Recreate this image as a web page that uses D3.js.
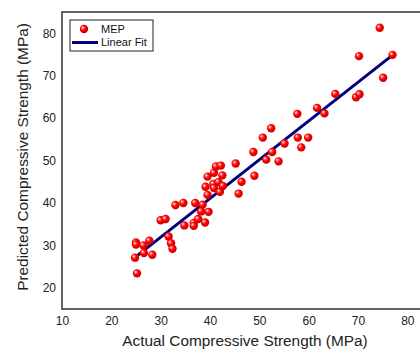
<!DOCTYPE html>
<html>
<head>
<meta charset="utf-8">
<script src="https://cdn.jsdelivr.net/npm/d3@7"></script>
<style>
  body { margin: 0; background: #fff; }
  svg { display: block; font-family: "Liberation Sans", Arial, sans-serif; }
</style>
</head>
<body>
<svg id="chart" width="420" height="358"></svg>
<script>
// actual vs predicted strength (MPa)
const actual = [25.2, 24.8, 25.0, 25.0, 26.5, 27.7, 26.6, 28.3, 30.0, 31.0,
  31.6, 32.1, 32.4, 33.0, 34.6, 34.8, 37.0, 38.5, 38.2, 39.7,
  36.7, 36.7, 37.6, 39.0, 39.1, 40.7, 40.8, 41.7, 39.5, 42.0,
  42.6, 39.5, 40.8, 41.2, 42.2, 42.5, 45.8, 46.4, 45.2, 49.0,
  48.8, 51.4, 52.6, 53.9, 50.7, 52.4, 55.1, 57.8, 59.9, 58.5,
  57.7, 61.7, 63.2, 65.4, 69.6, 70.3, 75.1, 70.2, 77.0, 74.4];
const predicted = [23.4, 27.1, 30.7, 30.2, 30.0, 31.1, 28.2, 27.8, 35.9, 36.2,
  32.1, 30.5, 29.2, 39.5, 40.0, 34.7, 40.0, 39.6, 38.0, 37.9,
  35.3, 34.6, 36.2, 35.4, 43.8, 44.5, 43.5, 44.9, 41.9, 42.6,
  44.0, 46.2, 47.1, 48.6, 48.8, 46.5, 42.2, 45.0, 49.3, 46.4,
  52.0, 50.2, 52.0, 49.8, 55.4, 57.6, 54.0, 55.4, 55.4, 53.1,
  61.0, 62.4, 61.1, 65.7, 64.9, 65.6, 69.5, 74.6, 74.9, 81.3];
const fitSlope = 0.913;
const fitIntercept = 4.54;
const xTicks = [10, 20, 30, 40, 50, 60, 70, 80];
const yTicks = [20, 30, 40, 50, 60, 70, 80];
const legendLabels = ["MEP", "Linear Fit"];

const points = actual.map((a, i) => ({ x: a, y: predicted[i] }));

const svg = d3.select("#chart");
const plotL = 62, plotT = 12, plotB = 309, plotR = 432;

const x = d3.scaleLinear().domain([10, 85]).range([plotL, plotR]);
const y = d3.scaleLinear().domain([15, 85]).range([plotB, plotT]);

const defs = svg.append("defs");
const grad = defs.append("radialGradient")
  .attr("id", "ball")
  .attr("cx", "45%").attr("cy", "45%").attr("r", "60%")
  .attr("fx", "32%").attr("fy", "32%");
grad.append("stop").attr("offset", "0%").attr("stop-color", "#ffffff");
grad.append("stop").attr("offset", "22%").attr("stop-color", "#ff7070");
grad.append("stop").attr("offset", "50%").attr("stop-color", "#ff0000");
grad.append("stop").attr("offset", "100%").attr("stop-color", "#c00000");

// frame: left, top and bottom (right side runs off the canvas)
svg.append("path")
  .attr("d", `M${plotR},${plotT}H${plotL}V${plotB}H${plotR}`)
  .attr("fill", "none")
  .attr("stroke", "#333")
  .attr("stroke-width", 1.5);

const xAxis = svg.append("g")
  .attr("transform", `translate(0,${plotB})`)
  .call(d3.axisBottom(x).tickValues(xTicks).tickSize(0).tickPadding(7));
const yAxis = svg.append("g")
  .attr("transform", `translate(${plotL},0)`)
  .call(d3.axisLeft(y).tickValues(yTicks).tickSize(0).tickPadding(6));
[xAxis, yAxis].forEach(g => {
  g.select(".domain").remove();
  g.selectAll("text")
    .attr("font-size", 12)
    .attr("font-family", "Liberation Sans, Arial, sans-serif")
    .attr("fill", "#222");
});

// fitted line over the range of the data
const xr = d3.extent(actual);
svg.append("line")
  .attr("x1", x(xr[0])).attr("y1", y(fitSlope * xr[0] + fitIntercept))
  .attr("x2", x(xr[1])).attr("y2", y(fitSlope * xr[1] + fitIntercept))
  .attr("stroke", "#000080")
  .attr("stroke-width", 3);

svg.append("g")
  .selectAll("circle")
  .data(points)
  .enter().append("circle")
  .attr("cx", d => x(d.x))
  .attr("cy", d => y(d.y))
  .attr("r", 4.2)
  .attr("fill", "url(#ball)");

// axis titles
svg.append("text")
  .attr("x", 245).attr("y", 346)
  .attr("text-anchor", "middle")
  .attr("font-size", 15.4)
  .attr("fill", "#222")
  .text("Actual Compressive Strength (MPa)");
svg.append("text")
  .attr("transform", "translate(27.5,157) rotate(-90)")
  .attr("text-anchor", "middle")
  .attr("font-size", 15.4)
  .attr("fill", "#222")
  .text("Predicted Compressive Strength (MPa)");

// legend
const leg = svg.append("g").attr("transform", "translate(70,20)");
leg.append("rect")
  .attr("width", 83).attr("height", 31)
  .attr("fill", "#fff")
  .attr("stroke", "#222")
  .attr("stroke-width", 1);
leg.append("circle")
  .attr("cx", 14).attr("cy", 9).attr("r", 4.2)
  .attr("fill", "url(#ball)");
leg.append("line")
  .attr("x1", 2).attr("x2", 28).attr("y1", 22.5).attr("y2", 22.5)
  .attr("stroke", "#000080").attr("stroke-width", 3);
leg.selectAll("text.lab")
  .data(legendLabels)
  .enter().append("text")
  .attr("class", "lab")
  .attr("x", 31)
  .attr("y", (d, i) => 9 + i * 13.5)
  .attr("dy", "0.35em")
  .attr("font-size", 11)
  .attr("fill", "#111")
  .text(d => d);
</script>
</body>
</html>
